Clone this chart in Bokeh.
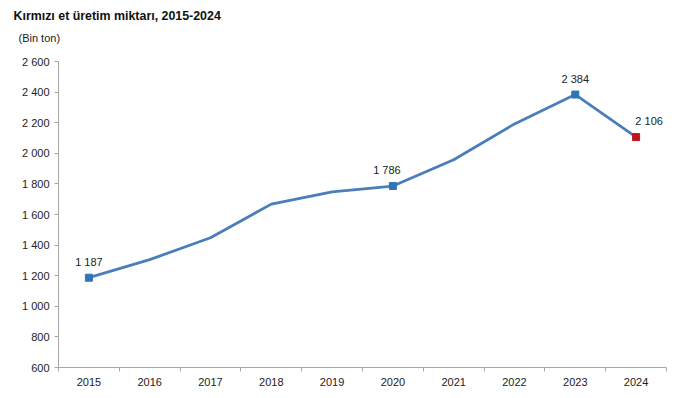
from bokeh.plotting import figure
from bokeh.models import Range1d, FixedTicker, Title, ColumnDataSource
from bokeh.embed import file_html
from bokeh.resources import INLINE
from bokeh.core.properties import value

# ---- data ----
years = [2015, 2016, 2017, 2018, 2019, 2020, 2021, 2022, 2023, 2024]
production = [1187, 1305, 1448, 1668, 1748, 1786, 1958, 2192, 2384, 2106]
labeled_years = [2015, 2020, 2023, 2024]
labeled_values = [1187, 1786, 2384, 2106]
labeled_texts = ["1 187", "1 786", "2 384", "2 106"]
marker_colors = ["#2f75b5", "#2f75b5", "#2f75b5", "#c0141f"]
y_ticks = [600, 800, 1000, 1200, 1400, 1600, 1800, 2000, 2200, 2400, 2600]
y_tick_labels = ["600", "800", "1 000", "1 200", "1 400", "1 600", "1 800",
                 "2 000", "2 200", "2 400", "2 600"]
x_tick_labels = ["2015", "2016", "2017", "2018", "2019", "2020", "2021",
                 "2022", "2023", "2024"]
title_text = "Kırmızı et üretim miktarı, 2015-2024"
unit_text = "(Bin ton)"

# label offsets (style, pixels)
label_dx = [0, -6, 0, 13]

FONT = "Liberation Sans"

p = figure(width=682, height=392, output_backend="svg", toolbar_location=None,
           x_range=Range1d(years[0] - 0.5, years[-1] + 0.5),
           y_range=Range1d(y_ticks[0], y_ticks[-1]),
           min_border_left=58, min_border_right=16, min_border_top=61,
           min_border_bottom=25, title=None)
p.outline_line_color = None
p.background_fill_color = "white"
p.border_fill_color = "white"
p.xgrid.grid_line_color = None
p.ygrid.grid_line_color = None

# titles (stacked upward from the frame; first is a blank spacer)
p.add_layout(Title(text=" ", text_font=FONT, text_font_size="1px",
                   standoff=12), "above")
p.add_layout(Title(text=unit_text, align="left", offset=-40, text_font=FONT,
                   text_font_size="11px", text_font_style="normal",
                   text_color="#222222", standoff=6), "above")
p.add_layout(Title(text=title_text, align="left", offset=-45, text_font=FONT,
                   text_font_size="12.4px", text_font_style="bold",
                   text_color="#111111", standoff=8), "above")

# y axis
ya = p.yaxis[0]
ya.ticker = FixedTicker(ticks=y_ticks)
ya.major_label_overrides = {t: l for t, l in zip(y_ticks, y_tick_labels)}
ya.axis_line_color = "#a6a6a6"
ya.major_tick_line_color = "#a6a6a6"
ya.major_tick_out = 4
ya.major_tick_in = 0
ya.minor_tick_line_color = None
ya.major_label_standoff = 5
ya.major_label_text_font = FONT
ya.major_label_text_font_size = "11px"
ya.major_label_text_color = "#222222"

# x axis
xa = p.xaxis[0]
xa.ticker = FixedTicker(ticks=years,
                        minor_ticks=[y - 0.5 for y in years] + [years[-1] + 0.5])
xa.major_label_overrides = {t: l for t, l in zip(years, x_tick_labels)}
xa.axis_line_color = "#a6a6a6"
xa.major_tick_line_color = None
xa.major_tick_out = 0
xa.major_tick_in = 0
xa.minor_tick_line_color = "#a6a6a6"
xa.minor_tick_out = 4
xa.minor_tick_in = 0
xa.major_label_standoff = 6
xa.major_label_text_font = FONT
xa.major_label_text_font_size = "11px"
xa.major_label_text_color = "#222222"

# line
p.line(years, production, line_color="#4a7ebb", line_width=2.75)

# markers
src = ColumnDataSource(dict(x=labeled_years, y=labeled_values, t=labeled_texts,
                            c=marker_colors, dx=label_dx))
p.scatter("x", "y", source=src, marker="square", size=7, fill_color="c",
          line_color="c")
p.text("x", "y", text="t", source=src, x_offset="dx", y_offset=-10,
       text_align="center", text_baseline="bottom",
       text_font=value(FONT), text_font_size="11px", text_color="#222222")

open("out.html", "w").write(file_html(p, INLINE))
